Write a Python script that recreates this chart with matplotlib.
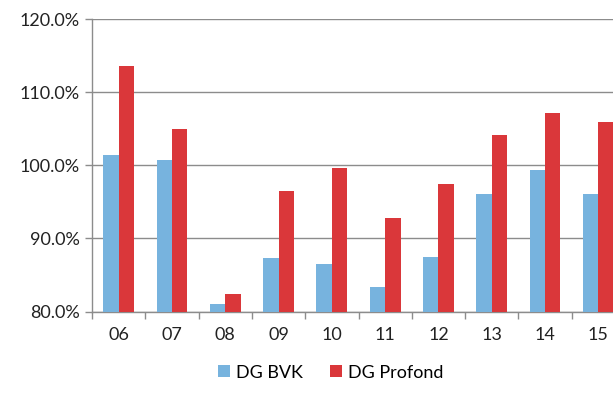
import matplotlib
matplotlib.use("Agg")
import matplotlib.pyplot as plt
import numpy as np
from matplotlib.ticker import FuncFormatter, FixedLocator

categories = ["06", "07", "08", "09", "10", "11", "12", "13", "14", "15"]
dg_bvk = [101.4, 100.7, 81.0, 87.3, 86.5, 83.4, 87.5, 96.1, 99.3, 96.1]
dg_profond = [113.6, 105.0, 82.4, 96.5, 99.6, 92.8, 97.5, 104.2, 107.1, 105.9]
yticks = [80, 90, 100, 110, 120]

plt.rcParams['font.family'] = ['Lato', 'DejaVu Sans']

fig = plt.figure(figsize=(6.13, 3.95), dpi=100)
ax = fig.add_axes([92/613, (395-311.5)/395, 533/613, 292.5/395])

x = np.arange(len(categories))
w = 0.288
ax.bar(x - w/2, [v - 80 for v in dg_bvk], w, bottom=80, color="#77B3DE", label="DG BVK", zorder=3)
ax.bar(x + w/2, [v - 80 for v in dg_profond], w, bottom=80, color="#DA373A", label="DG Profond", zorder=3)

ax.set_ylim(80, 120)
ax.set_xlim(-0.5, len(categories) - 0.5)
ax.yaxis.set_major_locator(FixedLocator(yticks))
ax.yaxis.set_major_formatter(FuncFormatter(lambda v, p: f"{v:.1f}%"))
ax.grid(axis="y", color="#8c8c8c", linewidth=1, zorder=0)

ax.set_xticks(x)
ax.set_xticklabels(categories)
ax.set_xticks(np.arange(len(categories) + 1) - 0.5, minor=True)
ax.tick_params(axis="x", which="major", length=0, pad=11, labelsize=13, colors="#222222")
ax.tick_params(axis="x", which="minor", length=5, width=1, color="#8c8c8c", direction="out")
ax.tick_params(axis="y", length=5, width=1, color="#8c8c8c", labelsize=13, labelcolor="#222222", pad=4)

for s in ["top", "right"]:
    ax.spines[s].set_visible(False)
for s in ["left", "bottom"]:
    ax.spines[s].set_color("#8c8c8c")
    ax.spines[s].set_linewidth(1)

fig.legend(loc="lower center", bbox_to_anchor=(0.54, -0.005), ncol=2, frameon=False,
           fontsize=13, handlelength=0.65, handleheight=0.65, handletextpad=0.35, columnspacing=1.5)

fig.savefig("out.png", dpi=100)
